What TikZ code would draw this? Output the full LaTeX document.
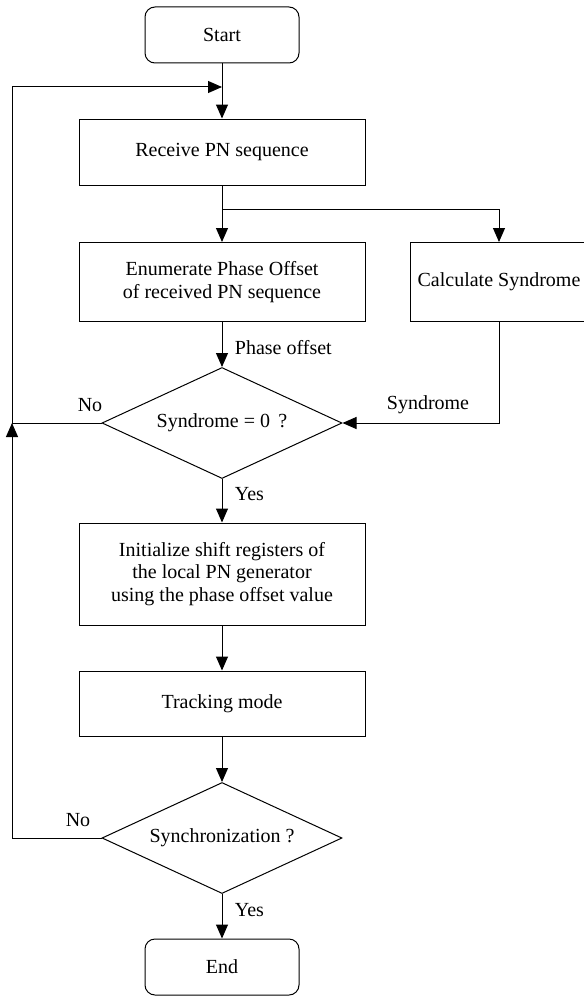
\documentclass[tikz,border=0pt]{standalone}
\usepackage{fontspec}
\setmainfont{Liberation Serif}
\usepackage{tikz}
\usetikzlibrary{shapes.geometric, arrows.meta, positioning, calc}
\tikzset{
  txt/.style={font=\fontsize{12}{13.5}\selectfont},
  procbox/.style={draw, line width=0.6pt, txt, align=center, inner sep=2pt,
                  minimum width=171.6pt, minimum height=#1},
  procbox/.default=39.6pt,
  termbox/.style={draw, line width=0.6pt, rounded corners=6pt, txt,
                  minimum width=92.4pt, minimum height=33.6pt},
  decide/.style={draw, diamond, line width=0.6pt, txt, inner sep=0pt, aspect=2.16,
                 minimum width=144pt, minimum height=66.6pt},
  flow/.style={-{Triangle[length=8.4pt, width=7.2pt]}, line width=0.6pt},
  wire/.style={line width=0.6pt},
}

\begin{document}
\begin{tikzpicture}[x=0.6pt, y=-0.6pt]
  \useasboundingbox (0,0) rectangle (583,997);
  \node[termbox] (start) at (222,35) {Start};
  \node[procbox] (recv) at (222,152) {Receive PN sequence};
  \node[procbox=47.4pt] (enum) at (222,282) {Enumerate Phase Offset\\of received PN sequence};
  % right side of this box runs past the page edge
  \node[procbox=47.4pt, minimum width=106.8pt] (calc) at (499,282) {Calculate Syndrome};
  \node[decide] (check) at (222,423) {Syndrome = 0\,\ ?};
  \node[procbox=61.2pt] (init) at (222,574) {Initialize shift registers of\\the local PN generator\\using the phase offset value};
  \node[procbox=39pt] (track) at (222,703.5) {Tracking mode};
  \node[decide] (sync) at (222,838) {Synchronization ?};
  \node[termbox] (end) at (222,967) {End};

  \coordinate (join) at (222,87);
  \coordinate (split) at (222,209);
  \coordinate (loopA) at (12,838);
  \coordinate (loopB) at (12,423);
  \coordinate (loopC) at (12,87);

  \draw[flow] (start) -- (recv);
  \draw[wire] (recv) -- (split);
  \draw[flow] (split) -- (enum);
  \draw[flow] (split) -| (calc);
  \draw[flow] (enum) -- (check);
  \node[txt, anchor=west] (lblphase) at (229,348) {Phase offset};
  \draw[flow] (calc) |- (check.east);
  \node[txt] (lblsyn) at (428,405) {Syndrome};
  \draw[wire] (check.west) -- (loopB);
  \node[txt] (lblno1) at (90,405) {No};
  \draw[flow] (check) -- (init);
  \node[txt, anchor=west] (lblyes1) at (229,494) {Yes};
  \draw[flow] (init) -- (track);
  \draw[flow] (track) -- (sync);
  \draw[flow] (sync) -- (end);
  \node[txt, anchor=west] (lblyes2) at (229,910) {Yes};
  \draw[flow] (sync.west) -- (loopA) -- (loopB);
  \node[txt] (lblno2) at (78,820) {No};
  \draw[flow] (loopB) -- (loopC) -- (join);
\end{tikzpicture}
\end{document}
